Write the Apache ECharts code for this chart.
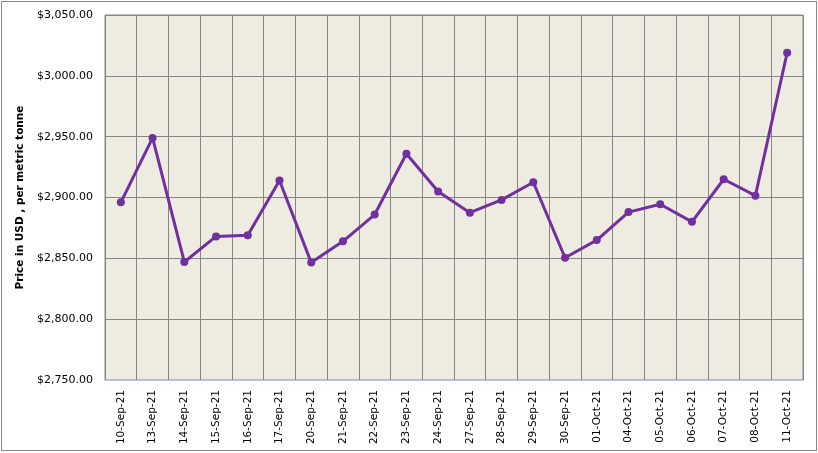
<!DOCTYPE html>
<html>
<head>
<meta charset="utf-8">
<script src="https://cdn.jsdelivr.net/npm/echarts@6/dist/echarts.min.js"></script>
<style>
html,body{margin:0;padding:0;background:#fff;}
#frame{position:absolute;left:1px;top:1px;width:814px;height:448px;border:1px solid #888;}
#chart{position:absolute;left:0;top:0;width:818px;height:453px;}
</style>
</head>
<body>
<div id="frame"></div>
<div id="chart"></div>
<script>
// dates on the x axis
const dates=[
    "10-Sep-21","13-Sep-21","14-Sep-21","15-Sep-21","16-Sep-21","17-Sep-21",
    "20-Sep-21","21-Sep-21","22-Sep-21","23-Sep-21","24-Sep-21","27-Sep-21",
    "28-Sep-21","29-Sep-21","30-Sep-21","01-Oct-21","04-Oct-21","05-Oct-21",
    "06-Oct-21","07-Oct-21","08-Oct-21","11-Oct-21"
];

// price in USD per metric tonne
const prices=[
    2896,2949,2847,2868,2869,2914,
    2846.5,2864,2886,2936,2905,2887.5,
    2898,2912.5,2850.5,2865,2888,2894.5,
    2880,2915,2901.5,3019
];

const yMin=2750;
const yMax=3050;
const yStep=50;

const chart=echarts.init(document.getElementById("chart"));

chart.setOption({
    animation:false,
    grid:{
        left:105,
        right:15,
        top:15,
        bottom:73,
        show:true,
        backgroundColor:"#EEEBE1",
        borderColor:"#868686",
        borderWidth:1
    },
    xAxis:{
        type:"category",
        data:dates,
        boundaryGap:true,
        axisLine:{lineStyle:{color:"#B4C7E7",width:1}},
        axisTick:{show:false},
        axisLabel:{
            interval:0,
            rotate:90,
            color:"#000",
            fontFamily:"DejaVu Sans",
            fontSize:10.5,
            margin:10
        },
        splitLine:{
            show:true,
            interval:0,
            lineStyle:{color:"#868686",width:1}
        }
    },
    yAxis:{
        type:"value",
        min:yMin,
        max:yMax,
        interval:yStep,
        name:"Price in USD , per metric tonne",
        nameLocation:"middle",
        nameGap:77,
        nameTextStyle:{
            color:"#000",
            fontFamily:"DejaVu Sans",
            fontWeight:"bold",
            fontSize:10.5
        },
        axisLine:{show:false},
        axisTick:{show:false},
        axisLabel:{
            color:"#000",
            fontFamily:"DejaVu Sans",
            fontSize:11,
            margin:12,
            formatter:v=>"$"+v.toLocaleString("en-US",{minimumFractionDigits:2,maximumFractionDigits:2})
        },
        splitLine:{lineStyle:{color:"#868686",width:1}}
    },
    series:[
        {
            type:"line",
            data:prices,
            symbol:"circle",
            symbolSize:8,
            lineStyle:{color:"#7030A0",width:3},
            itemStyle:{color:"#7030A0"}
        }
    ]
});
</script>
</body>
</html>
